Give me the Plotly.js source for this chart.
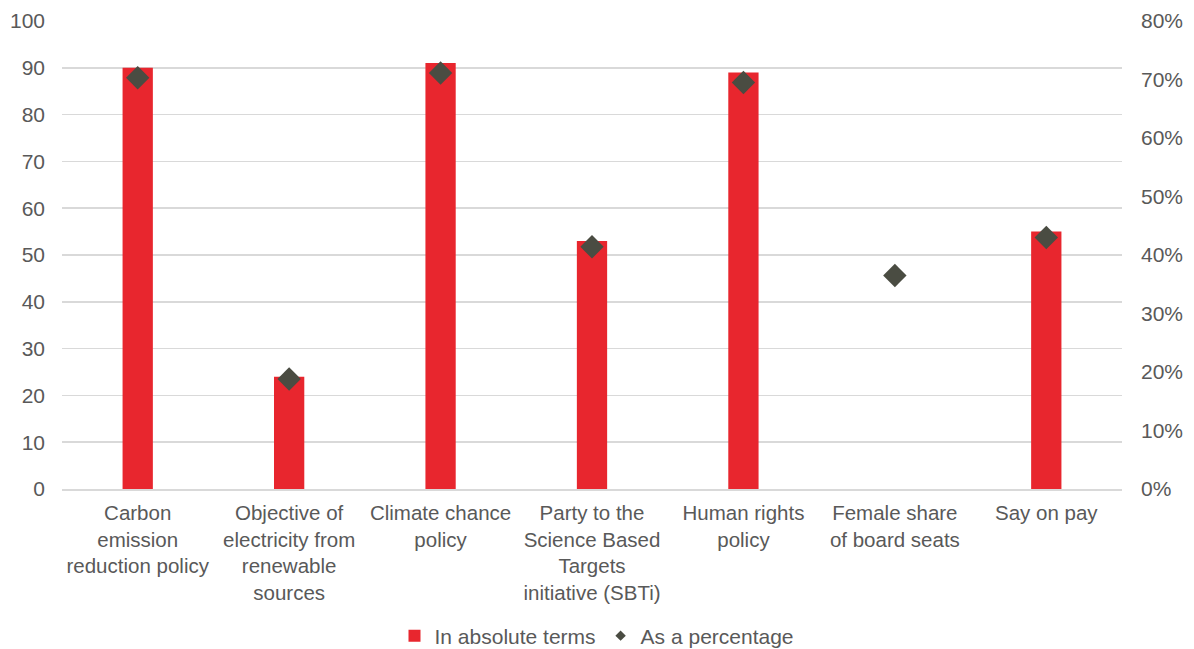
<!DOCTYPE html>
<html>
<head>
<meta charset="utf-8">
<script src="https://cdn.plot.ly/plotly-3.0.1.min.js"></script>
<style>
  html, body { margin: 0; padding: 0; background: #ffffff; }
  #chart { width: 1194px; height: 649px; }
</style>
</head>
<body>
<div id="chart"></div>
<script>
// Categories (line breaks as shown under the axis)
const categories = [
  "Carbon<br>emission<br>reduction policy",
  "Objective of<br>electricity from<br>renewable<br>sources",
  "Climate chance<br>policy",
  "Party to the<br>Science Based<br>Targets<br>initiative (SBTi)",
  "Human rights<br>policy",
  "Female share<br>of board seats",
  "Say on pay"
];

// Number of companies (left axis)
const absoluteValues = [90, 24, 91, 53, 89, null, 55];

// Share of companies (right axis, fraction)
const percentValues = [0.703, 0.188, 0.711, 0.414, 0.695, 0.365, 0.430];

const leftTicks = [0, 10, 20, 30, 40, 50, 60, 70, 80, 90, 100];
const rightTicks = [0, 0.1, 0.2, 0.3, 0.4, 0.5, 0.6, 0.7, 0.8];

const textColor = "#595959";
const gridColor = "#d9d9d9";
const barColor = "#e8262e";
const markerColor = "#4a4c42";
const fontFamily = "Liberation Sans, Arial, sans-serif";

const traces = [
  {
    type: "bar",
    name: "In absolute terms",
    x: categories,
    y: absoluteValues,
    width: 0.2,
    marker: { color: barColor },
    yaxis: "y",
    hoverinfo: "x+y"
  },
  {
    type: "scatter",
    mode: "markers",
    name: "As a percentage",
    x: categories,
    y: percentValues,
    yaxis: "y2",
    marker: { symbol: "diamond", size: 18, color: markerColor },
    showlegend: false,
    hoverinfo: "x+y"
  },
  {
    // legend entry with a smaller diamond
    type: "scatter",
    mode: "markers",
    name: "As a percentage",
    x: [null],
    y: [null],
    yaxis: "y2",
    marker: { symbol: "diamond", size: 8, color: markerColor },
    hoverinfo: "skip"
  }
];

const layout = {
  width: 1194,
  height: 649,
  margin: { l: 62, r: 72, t: 21, b: 160 },
  paper_bgcolor: "#ffffff",
  plot_bgcolor: "#ffffff",
  font: { family: fontFamily, size: 21, color: textColor },
  showlegend: true,
  bargap: 0.8,
  xaxis: {
    type: "category",
    range: [-0.5, 6.5],
    showgrid: false,
    showline: true,
    linecolor: gridColor,
    linewidth: 1.5,
    ticks: "",
    ticklabelstandoff: 5,
    tickfont: { family: fontFamily, size: 20.5, color: textColor },
    fixedrange: true
  },
  yaxis: {
    range: [0, 100],
    tickvals: leftTicks,
    showgrid: true,
    gridcolor: gridColor,
    gridwidth: 1.5,
    zeroline: false,
    showline: false,
    ticks: "",
    ticklabelstandoff: 16,
    tickfont: { family: fontFamily, size: 21, color: textColor },
    fixedrange: true
  },
  yaxis2: {
    overlaying: "y",
    side: "right",
    range: [0, 0.8],
    tickvals: rightTicks,
    tickformat: ".0%",
    showgrid: false,
    zeroline: false,
    showline: false,
    ticks: "",
    ticklabelstandoff: 18,
    tickfont: { family: fontFamily, size: 21, color: textColor },
    fixedrange: true
  },
  legend: {
    orientation: "h",
    xref: "container",
    yref: "container",
    x: 0.5,
    xanchor: "center",
    y: 0.02,
    yanchor: "middle",
    font: { family: fontFamily, size: 21, color: textColor },
    itemwidth: 30,
    bgcolor: "rgba(0,0,0,0)"
  }
};

Plotly.newPlot("chart", traces, layout, { displayModeBar: false, staticPlot: true });
</script>
</body>
</html>
